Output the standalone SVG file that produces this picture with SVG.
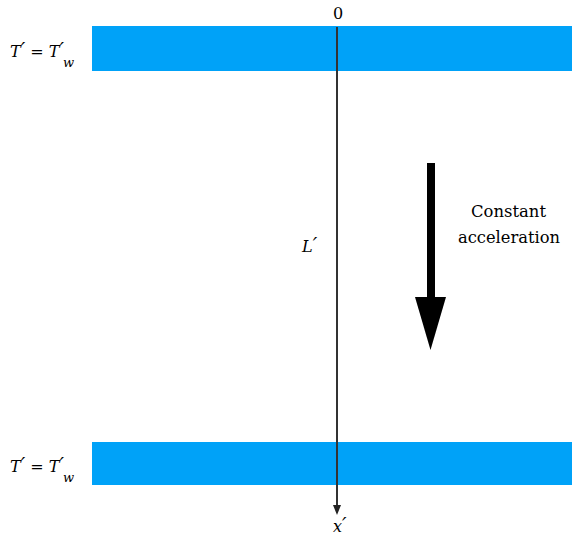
<svg xmlns="http://www.w3.org/2000/svg" width="572" height="538" viewBox="0 0 572 538">
<style>
.band{fill:#00A2F8}
.t{font-family:'DejaVu Serif',serif;fill:#000}
.i{font-style:italic}
.p{font-size:20px}
</style>
<rect width="572" height="538" fill="#fff"/>
<g id="top-wall">
<rect class="band" x="92" y="26" width="480" height="45"/>
<text class="t i" x="10" y="57" font-size="16">T<tspan class="p">′</tspan> = T<tspan class="p">′</tspan></text>
<text class="t i" x="63" y="67" font-size="13">w</text>
</g>
<g id="bottom-wall">
<rect class="band" x="92" y="442" width="480" height="43"/>
<text class="t i" x="10" y="472" font-size="16">T<tspan class="p">′</tspan> = T<tspan class="p">′</tspan></text>
<text class="t i" x="63" y="482" font-size="13">w</text>
</g>
<g id="connectors">
<line x1="337" y1="27" x2="337" y2="506" stroke="#333" stroke-width="2"/>
<path d="M333,505 L341,505 L337,515 Z" fill="#222"/>
<rect x="427" y="163" width="8" height="136" fill="#000"/>
<path d="M415,297 L446,297 L430.5,350 Z" fill="#000"/>
</g>
<g id="labels">
<text class="t" x="338" y="19" font-size="16" text-anchor="middle">0</text>
<text class="t i" x="302" y="252" font-size="16">L<tspan class="p">′</tspan></text>
<text class="t i" x="333" y="532" font-size="16">x<tspan class="p">′</tspan></text>
<text class="t" x="471" y="217" font-size="16" textLength="75" lengthAdjust="spacingAndGlyphs">Constant</text>
<text class="t" x="458" y="243" font-size="16" textLength="102" lengthAdjust="spacingAndGlyphs">acceleration</text>
</g>
</svg>
